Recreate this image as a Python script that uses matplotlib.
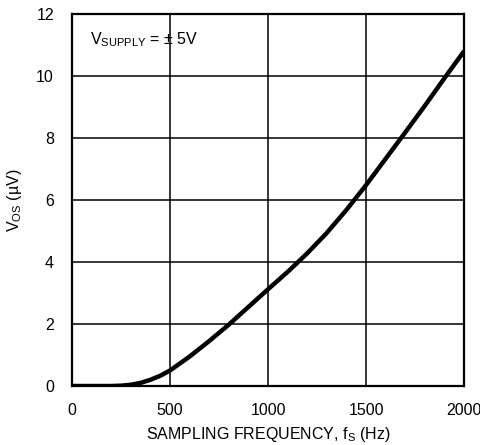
import matplotlib.pyplot as plt

plt.rcParams['font.family'] = ['Liberation Sans Narrow', 'Liberation Sans', 'DejaVu Sans']

# sampling frequency (Hz) and offset voltage (uV)
freq = [0, 100, 200, 250, 300, 350, 400, 450, 500, 600, 700, 800, 900, 1000,
        1100, 1200, 1300, 1400, 1500, 1600, 1700, 1800, 1900, 2000]
vos = [0, 0, 0, 0.01, 0.04, 0.1, 0.2, 0.33, 0.5, 0.95, 1.45, 1.98, 2.55, 3.12,
       3.68, 4.28, 4.94, 5.68, 6.48, 7.33, 8.18, 9.04, 9.93, 10.8]

xticks = [0, 500, 1000, 1500, 2000]
yticks = [0, 2, 4, 6, 8, 10, 12]

fig = plt.figure(figsize=(4.81, 4.45), dpi=100)
ax = fig.add_axes([0.1497, 0.1326, 0.815, 0.8359])

ax.plot(freq, vos, color='black', linewidth=3.2, solid_capstyle='butt')

ax.set_xlim(0, 2000)
ax.set_ylim(0, 12)
ax.set_xticks(xticks)
ax.set_yticks(yticks)
ax.tick_params(length=0, labelsize=11.5)
ax.tick_params(axis='x', pad=12)
ax.tick_params(axis='y', pad=13)
ax.grid(True, color='black', linewidth=1.1)
for s in ax.spines.values():
    s.set_linewidth(1.6)
    s.set_color('black')

ax.set_xlabel('SAMPLING FREQUENCY, f$_\\mathregular{S}$ (Hz)', fontsize=11.5, labelpad=5)
ax.set_ylabel('V$_\\mathregular{OS}$ (\u00b5V)', fontsize=11.5, labelpad=9)
ax.text(0.045, 0.93, 'V$_\\mathregular{SUPPLY}$ = \u00b1 5V', transform=ax.transAxes,
        fontsize=11.5, va='center', ha='left')

fig.savefig('out.png', dpi=100)
